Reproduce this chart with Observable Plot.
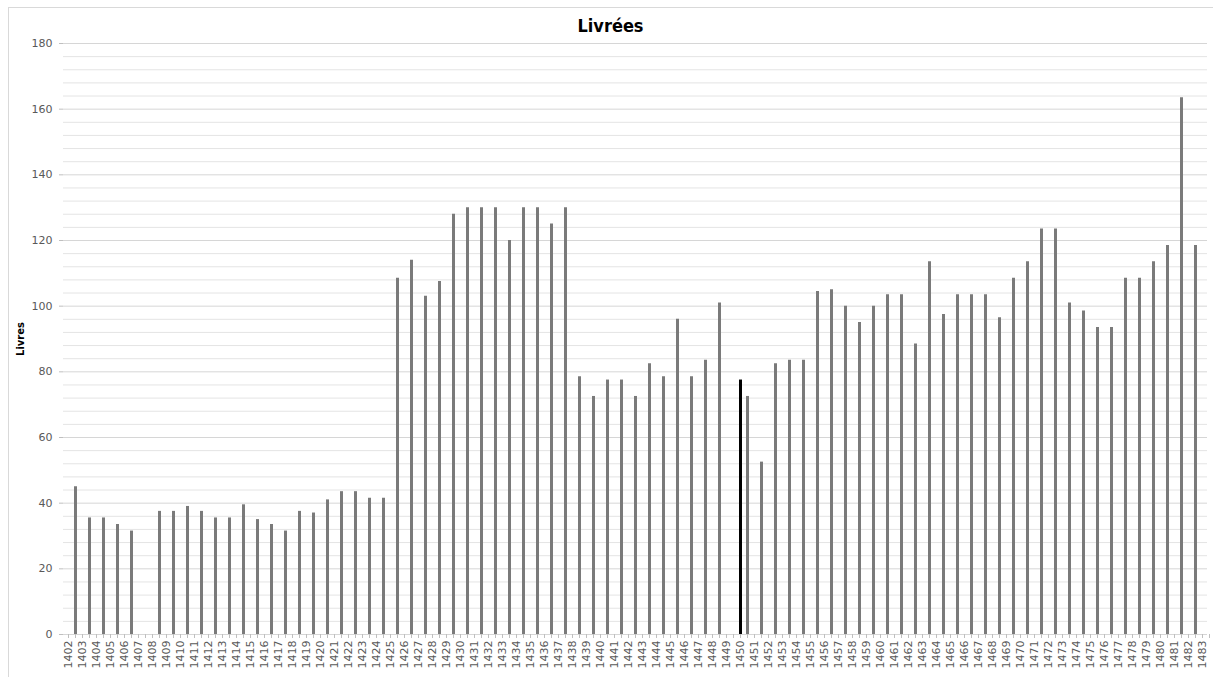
<!DOCTYPE html>
<html>
<head>
<meta charset="utf-8">
<script src="https://cdn.jsdelivr.net/npm/d3@7"></script>
<script src="https://cdn.jsdelivr.net/npm/@observablehq/plot@0.6"></script>
<style>
  html, body { margin: 0; padding: 0; background: #fff; }
  #wrap { position: relative; width: 1213px; height: 677px; overflow: hidden; font-family: "DejaVu Sans", sans-serif; }
  #border { position: absolute; left: 8px; top: 7px; width: 1220px; height: 700px; border: 1px solid #d9d9d9; box-sizing: border-box; }
  #title { position: absolute; left: 8px; width: 1205px; top: 15px; text-align: center; font-family: "DejaVu Sans Condensed", "DejaVu Sans", sans-serif; font-stretch: condensed; font-weight: bold; font-size: 18px; color: #000; }
  #chart { position: absolute; left: 0; top: 0; }
</style>
</head>
<body>
<div id="wrap">
  <div id="border"></div>
  <div id="chart"></div>
  <div id="title">Livrées</div>
</div>
<script>
const titleText = "Livrées";
const yLabel = "Livres";

const years = [1402,1403,1404,1405,1406,1407,1408,1409,1410,1411,1412,1413,1414,1415,1416,1417,1418,1419,1420,
  1421,1422,1423,1424,1425,1426,1427,1428,1429,1430,1431,1432,1433,1434,1435,1436,1437,1438,1439,1440,
  1441,1442,1443,1444,1445,1446,1447,1448,1449,1450,1451,1452,1453,1454,1455,1456,1457,1458,1459,1460,
  1461,1462,1463,1464,1465,1466,1467,1468,1469,1470,1471,1472,1473,1474,1475,1476,1477,1478,1479,1480,
  1481,1482,1483];

// gray series (one value per year, null = no bar)
const grayValues = [45,35.5,35.5,33.5,31.5,null,37.5,37.5,39,37.5,35.5,35.5,39.5,35,33.5,31.5,37.5,37,41,
  43.5,43.5,41.5,41.5,108.5,114,103,107.5,128,130,130,130,120,130,130,125,130,78.5,72.5,77.5,
  77.5,72.5,82.5,78.5,96,78.5,83.5,101,null,72.5,52.5,82.5,83.5,83.5,104.5,105,100,95,100,103.5,
  103.5,88.5,113.5,97.5,103.5,103.5,103.5,96.5,108.5,113.5,123.5,123.5,101,98.5,93.5,93.5,108.5,108.5,113.5,118.5,
  163.5,118.5,null];

// black series
const blackYears = [1450];
const blackValues = [77.5];

const yTicks = [0,20,40,60,80,100,120,140,160,180];
const gridTicks = [0,4,8,12,16,20,24,28,32,36,40,44,48,52,56,60,64,68,72,76,80,84,88,92,96,100,
  104,108,112,116,120,124,128,132,136,140,144,148,152,156,160,164,168,172,176,180];

const gray = years.map((y, i) => ({year: y, value: grayValues[i]})).filter(d => d.value != null);
const black = blackYears.map((y, i) => ({year: y, value: blackValues[i]}));

const font = "DejaVu Sans, sans-serif";

const chart = Plot.plot({
  width: 1213,
  height: 677,
  marginTop: 43,
  marginBottom: 43,
  marginLeft: 63,
  marginRight: 6,
  style: {fontFamily: font, background: "transparent"},
  x: {type: "point", domain: years, padding: 0, insetLeft: 3.5, insetRight: 3.5},
  y: {domain: [0, 180]},
  marks: [
    Plot.ruleY(gridTicks.filter(t => t % 20 !== 0), {y: d => d, stroke: "#e4e4e4", strokeWidth: 1}),
    Plot.ruleY(yTicks, {y: d => d, stroke: "#d6d6d6", strokeWidth: 1}),
    Plot.ruleX(gray, {x: "year", y1: 0, y2: "value", stroke: "#7a7a7a", strokeWidth: 3, dx: 7}),
    Plot.ruleX(black, {x: "year", y1: 0, y2: "value", stroke: "#000", strokeWidth: 3, dx: 0}),
    Plot.axisY({ticks: yTicks, tickSize: 4, tickPadding: 7, line: true, stroke: "#bfbfbf", fill: "#595959", fontSize: 11, label: null}),
    Plot.axisX({ticks: years, tickSize: 4, tickPadding: 2, tickRotate: -90, tickFormat: d => String(d), line: true, stroke: "#bfbfbf", fill: "#595959", fontSize: 11, label: null}),
    Plot.axisX({ticks: years, tickSize: 4, tickFormat: () => "", dx: 7, stroke: "#bfbfbf", label: null}),
    Plot.text([yLabel], {text: d => d, frameAnchor: "left", dx: -43, rotate: -90, textAnchor: "middle", fontWeight: "bold", fontSize: 10, fill: "#000"})
  ]
});
document.getElementById("chart").appendChild(chart);
document.getElementById("title").textContent = titleText;
</script>
</body>
</html>
